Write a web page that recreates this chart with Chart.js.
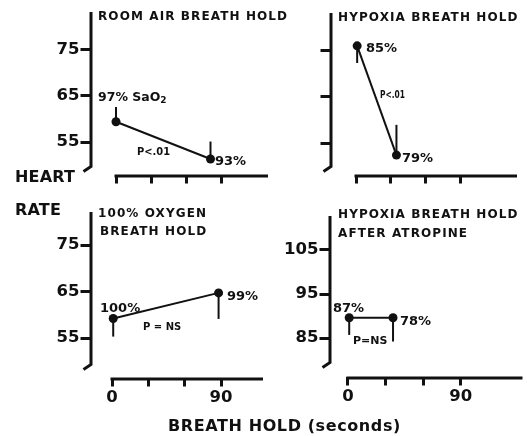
<!DOCTYPE html>
<html>
<head>
<meta charset="utf-8">
<script src="https://cdn.jsdelivr.net/npm/chart.js@4.4.1/dist/chart.umd.min.js"></script>
<style>
  body { margin: 0; background: #fff; }
  #wrap { position: relative; width: 527px; height: 436px; }
  #wrap canvas { position: absolute; left: 0; top: 0; }
</style>
</head>
<body>
<div id="wrap">
  <canvas id="roomAir" width="527" height="436"></canvas>
  <canvas id="hypoxia" width="527" height="436"></canvas>
  <canvas id="oxygen" width="527" height="436"></canvas>
  <canvas id="atropine" width="527" height="436"></canvas>
</div>
<script>
// breath hold time (s), mean heart rate (beats/min), SE bar (negative = drawn below the point)
const roomAirTime = [0, 81];
const roomAirRate = [59.4, 51.3];
const roomAirErr = [3.2, 3.8];
const roomAirSat = ['97%', '93%'];

const hypoxiaTime = [1, 35];
const hypoxiaRate = [75.9, 52.4];
const hypoxiaErr = [-3.7, 6.5];
const hypoxiaSat = ['85%', '79%'];

const oxygenTime = [1, 88];
const oxygenRate = [59.2, 64.7];
const oxygenErr = [-3.9, -5.6];
const oxygenSat = ['100%', '99%'];

const atropineTime = [1, 36];
const atropineRate = [89.6, 89.6];
const atropineErr = [-3.9, -5.4];
const atropineSat = ['87%', '78%'];

const pValues = ['P<.01', 'P<.01', 'P = NS', 'P=NS'];

const xTickValues = [0, 30, 60, 90];
const xTickLabels = ['0', '', '', '90'];
const heartTicks = [55, 65, 75];
const atropineTicks = [85, 95, 105];

const INK = '#111';
const FONT = '"DejaVu Sans", sans-serif';

// value/pixel calibration -> scale min & max for a given pixel span
function fitRange(cal, pStart, pEnd) {
    const [v1, p1, v2, p2] = cal;
    const k = (p2 - p1) / (v2 - v1);
    return [v1 + (pStart - p1) / k, v1 + (pEnd - p1) / k];
}

// detached axis lines, y axis with the little hook at its foot
const rangeFrame = {
    id: 'rangeFrame',
    beforeDatasetsDraw(chart, args, opts) {
        const { ctx, chartArea: a, scales: { x } } = chart;
        ctx.save();
        ctx.strokeStyle = INK;
        ctx.lineWidth = 3;
        ctx.beginPath();
        ctx.moveTo(a.left + 1.5, a.top);
        ctx.lineTo(a.left + 1.5, a.bottom - opts.tailGap);
        ctx.lineTo(a.left - 6, a.bottom - opts.tailGap + 5);
        ctx.stroke();
        ctx.beginPath();
        ctx.moveTo(x.getPixelForValue(0) - 1.5, a.bottom + 1.5);
        ctx.lineTo(a.right, a.bottom + 1.5);
        ctx.stroke();
        ctx.restore();
    }
};

// SE bars and the text bits
const annotate = {
    id: 'annotate',
    afterDatasetsDraw(chart, args, opts) {
        const { ctx, scales: { x, y } } = chart;
        ctx.save();
        ctx.strokeStyle = INK;
        ctx.lineWidth = 2;
        chart.data.datasets[0].data.forEach((p, i) => {
            const px = x.getPixelForValue(p.x);
            ctx.beginPath();
            ctx.moveTo(px, y.getPixelForValue(p.y));
            ctx.lineTo(px, y.getPixelForValue(p.y + opts.errors[i]));
            ctx.stroke();
        });
        ctx.fillStyle = INK;
        ctx.textBaseline = 'alphabetic';
        opts.texts.forEach(t => {
            ctx.save();
            ctx.translate(t.x, t.y);
            if (t.squeeze) ctx.scale(t.squeeze, 1);
            ctx.font = 'bold ' + t.size + 'px ' + FONT;
            ctx.letterSpacing = (t.spacing || 0) + 'px';
            ctx.fillText(t.text, 0, 0);
            if (t.sub) {
                const w = ctx.measureText(t.text).width;
                ctx.font = 'bold ' + Math.round(t.size * 0.7) + 'px ' + FONT;
                ctx.fillText(t.sub, w, 2);
            }
            ctx.restore();
        });
        ctx.restore();
    }
};

const panels = [
    {
        id: 'roomAir', time: roomAirTime, rate: roomAirRate, err: roomAirErr,
        yTicks: heartTicks, yLabels: true, xLabels: false,
        box: { left: 89.5, top: 12, right: 268, bottom: 174.5 },
        yCal: [75, 50, 55, 142], xCal: [0, 116, 90, 221], tailGap: 8,
        texts: [
            { text: 'ROOM AIR BREATH HOLD', x: 98, y: 20, size: 12, spacing: 1.1 },
            { text: roomAirSat[0] + ' SaO', sub: '2', x: 98, y: 101, size: 12.5 },
            { text: roomAirSat[1], x: 215, y: 165, size: 13 },
            { text: pValues[0], x: 137, y: 155, size: 11, squeeze: 0.9 },
            { text: 'HEART', x: 15, y: 181.5, size: 16, spacing: 0.2 },
            { text: 'RATE', x: 15, y: 215, size: 16, spacing: 0.2 },
            { text: 'BREATH HOLD (seconds)', x: 168, y: 431, size: 16, spacing: 0.6 }
        ]
    },
    {
        id: 'hypoxia', time: hypoxiaTime, rate: hypoxiaRate, err: hypoxiaErr,
        yTicks: heartTicks, yLabels: false, xLabels: false,
        box: { left: 329.5, top: 13, right: 517, bottom: 174.5 },
        yCal: [75, 50, 55, 143], xCal: [0, 356, 90, 460], tailGap: 8,
        texts: [
            { text: 'HYPOXIA BREATH HOLD', x: 338, y: 21, size: 12, spacing: 1.1 },
            { text: hypoxiaSat[0], x: 366, y: 52, size: 13 },
            { text: hypoxiaSat[1], x: 402, y: 162, size: 13 },
            { text: pValues[1], x: 380, y: 98, size: 11, squeeze: 0.68 }
        ]
    },
    {
        id: 'oxygen', time: oxygenTime, rate: oxygenRate, err: oxygenErr,
        yTicks: heartTicks, yLabels: true, xLabels: true,
        box: { left: 89.5, top: 212, right: 263, bottom: 377.5 },
        yCal: [75, 245, 55, 338], xCal: [0, 112, 90, 221], tailGap: 13,
        texts: [
            { text: '100% OXYGEN', x: 98, y: 217, size: 12, spacing: 1.1 },
            { text: 'BREATH HOLD', x: 100, y: 235, size: 12, spacing: 1.1 },
            { text: oxygenSat[0], x: 100, y: 312, size: 13 },
            { text: oxygenSat[1], x: 227, y: 300, size: 13 },
            { text: pValues[2], x: 143, y: 330, size: 10 }
        ]
    },
    {
        id: 'atropine', time: atropineTime, rate: atropineRate, err: atropineErr,
        yTicks: atropineTicks, yLabels: true, xLabels: true,
        box: { left: 328.5, top: 216, right: 523, bottom: 376.5 },
        yCal: [105, 250, 85, 338], xCal: [0, 348, 90, 461], tailGap: 14,
        texts: [
            { text: 'HYPOXIA BREATH HOLD', x: 338, y: 218, size: 12, spacing: 1.1 },
            { text: 'AFTER ATROPINE', x: 338, y: 237, size: 12, spacing: 1.1 },
            { text: atropineSat[0], x: 333, y: 312, size: 13 },
            { text: atropineSat[1], x: 400, y: 325, size: 13 },
            { text: pValues[3], x: 353, y: 344, size: 11 }
        ]
    }
];

const Y_WIDTH = 60;
const X_HEIGHT = 30;

function tickStyle() {
    return { drawOnChartArea: false, drawTicks: true, tickLength: 9, tickWidth: 3, tickColor: INK };
}

function renderPanel(p) {
    const b = p.box;
    const [xMin, xMax] = fitRange(p.xCal, b.left, b.right);
    const [yMax, yMin] = fitRange(p.yCal, b.top, b.bottom);
    const ctx = document.getElementById(p.id).getContext('2d');
    new Chart(ctx, {
        type: 'scatter',
        data: {
            datasets: [{
                data: p.time.map((t, i) => ({ x: t, y: p.rate[i] })),
                showLine: true,
                borderColor: INK,
                borderWidth: 2,
                pointRadius: 4.5,
                pointBackgroundColor: INK,
                pointBorderWidth: 0
            }]
        },
        options: {
            responsive: false,
            animation: false,
            events: [],
            layout: {
                padding: { left: b.left - Y_WIDTH, top: b.top, right: 527 - b.right, bottom: 436 - b.bottom - X_HEIGHT }
            },
            plugins: {
                legend: { display: false },
                tooltip: { enabled: false },
                rangeFrame: { tailGap: p.tailGap },
                annotate: { errors: p.err, texts: p.texts }
            },
            scales: {
                x: {
                    type: 'linear', min: xMin, max: xMax,
                    afterBuildTicks: s => { s.ticks = xTickValues.map(v => ({ value: v })); },
                    afterFit: s => { s.height = X_HEIGHT; },
                    grid: tickStyle(),
                    border: { display: false },
                    ticks: {
                        display: p.xLabels, autoSkip: false, maxRotation: 0, padding: 1, color: INK,
                        font: { family: FONT, size: 16.5, weight: 'bold' },
                        callback: (v, i) => xTickLabels[i]
                    }
                },
                y: {
                    type: 'linear', min: yMin, max: yMax,
                    afterBuildTicks: s => { s.ticks = p.yTicks.map(v => ({ value: v })); },
                    afterFit: s => { s.width = Y_WIDTH; },
                    grid: tickStyle(),
                    border: { display: false },
                    ticks: {
                        display: p.yLabels, padding: 1, color: INK,
                        font: { family: FONT, size: 16.5, weight: 'bold' }
                    }
                }
            }
        },
        plugins: [rangeFrame, annotate]
    });
}

panels.forEach(renderPanel);
</script>
</body>
</html>
